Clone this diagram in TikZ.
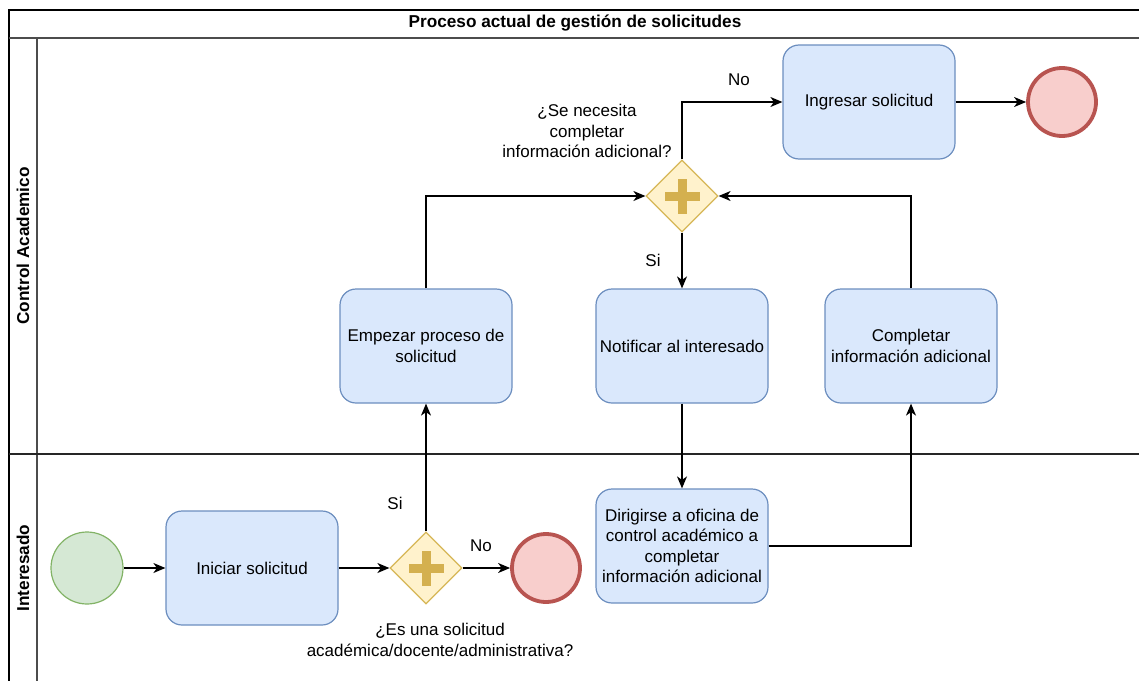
\documentclass[tikz,border=0pt]{standalone}
\usepackage{fontspec}
\setmainfont{Liberation Sans}
\usetikzlibrary{shapes.geometric,arrows.meta}
\definecolor{taskfill}{HTML}{DAE8FC}
\definecolor{taskdraw}{HTML}{6C8EBF}
\definecolor{gwfill}{HTML}{FFF2CC}
\definecolor{gwdraw}{HTML}{D6B656}
\definecolor{plusc}{HTML}{D4B04F}
\definecolor{startfill}{HTML}{D5E8D4}
\definecolor{startdraw}{HTML}{82B366}
\definecolor{endfill}{HTML}{F8CECC}
\definecolor{enddraw}{HTML}{B85450}
\tikzset{
  every node/.style={font=\fontsize{17}{20.5}\selectfont},
  task/.style={draw=taskdraw, fill=taskfill, line width=1.2pt, rounded corners=16pt,
    minimum width=172pt, minimum height=114pt, align=center, inner sep=2pt},
  gw/.style={diamond, draw=gwdraw, fill=gwfill, line width=1.2pt, minimum width=72pt,
    minimum height=72pt, inner sep=0pt},
  startev/.style={circle, draw=startdraw, fill=startfill, line width=1.2pt, minimum size=72pt, inner sep=0pt},
  endev/.style={circle, draw=enddraw, fill=endfill, line width=3.8pt, minimum size=68pt, inner sep=0pt},
  flow/.style={line width=1.3pt, -{Stealth[length=12pt,width=10pt,inset=3.5pt]}},
  lane/.style={line width=1.6pt, draw=black!85},
  lbl/.style={align=center, inner sep=0pt},
}
\begin{document}
\begin{tikzpicture}[x=1pt,y=-1pt]
\useasboundingbox (0,0) rectangle (1139,680);
\clip (0,0) rectangle (1139,680);
% pool frame
\draw[line width=2pt] (9,700) -- (9,10) -- (1150,10);
\draw[lane, draw=black!70] (9,38) -- (1150,38);
\draw[lane, draw=black!70] (37,38) -- (37,700);
\draw[lane] (9,454) -- (1150,454);
\node[font=\fontsize{17.2}{20}\selectfont\bfseries] (title) at (575,23) {Proceso actual de gestión de solicitudes};
\node[font=\fontsize{17.2}{20}\selectfont\bfseries, rotate=90] (lane1) at (23,246) {Control Academico};
\node[font=\fontsize{17.2}{20}\selectfont\bfseries, rotate=90] (lane2) at (23,568) {Interesado};

% nodes
\node[startev] (start) at (87,568) {};
\node[task] (iniciar) at (252,568) {Iniciar solicitud};
\node[gw] (g1) at (426,568) {};
\node[endev] (end1) at (546,568) {};
\node[task] (dirigir) at (682,546) {Dirigirse a oficina de\\control académico a\\completar\\información adicional};
\node[task] (empezar) at (426,346) {Empezar proceso de\\solicitud};
\node[task] (notificar) at (682,346) {Notificar al interesado};
\node[task] (completar) at (911,346) {Completar\\información adicional};
\node[gw] (g2) at (682,196) {};
\node[task] (ingresar) at (869,102) {Ingresar solicitud};
\node[endev] (end2) at (1062,102) {};

% plus signs
\foreach \g in {g1,g2}{
  \fill[plusc] ([shift={(-17.5,-4.5)}]\g.center) rectangle ([shift={(17.5,4.5)}]\g.center);
  \fill[plusc] ([shift={(-4.5,-17.5)}]\g.center) rectangle ([shift={(4.5,17.5)}]\g.center);
}

% labels
\node[lbl] (q1) at (440,640) {¿Es una solicitud\\académica/docente/administrativa?};
\node[lbl] (q2) at (587,131) {¿Se necesita\\completar\\información adicional?};
\node[lbl] (no1) at (481,546) {No};
\node[lbl] (si1) at (395,503) {Si};
\node[lbl] (si2) at (653,260) {Si};
\node[lbl] (no2) at (739,80) {No};

% connectors
\draw[flow] (start) -- (iniciar);
\draw[flow] (iniciar) -- (g1);
\draw[flow] (g1) -- (end1);
\draw[flow] (g1.north) -- (empezar.south);
\draw[flow] (empezar.north) |- (g2.west);
\draw[flow] (g2.south) -- (notificar.north);
\draw[flow] (notificar.south) -- (dirigir.north);
\draw[flow] (dirigir.east) -| (completar.south);
\draw[flow] (completar.north) |- (g2.east);
\draw[flow] (g2.north) |- (ingresar.west);
\draw[flow] (ingresar) -- (end2);
\end{tikzpicture}
\end{document}
